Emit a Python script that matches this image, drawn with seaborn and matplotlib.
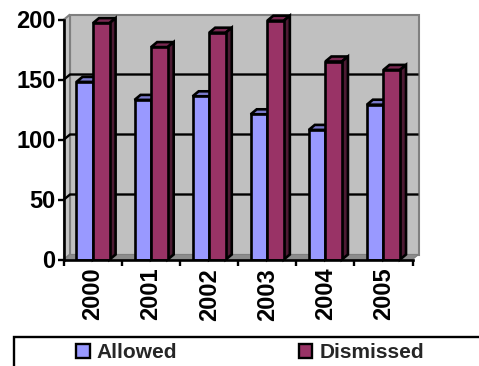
import matplotlib
matplotlib.use("Agg")
import matplotlib.pyplot as plt
from matplotlib.patches import Polygon, Rectangle
import pandas as pd
import seaborn as sns

years = ["2000", "2001", "2002", "2003", "2004", "2005"]
allowed = [148, 133, 136, 121, 108, 129]
dismissed = [197, 177, 189, 199, 165, 158]
series_names = ["Allowed", "Dismissed"]
y_ticks = [0, 50, 100, 150, 200]

FRONT = {"Allowed": "#9999FF", "Dismissed": "#993366"}
TOP = {"Allowed": "#7A7ACC", "Dismissed": "#7A2952"}
SIDE = {"Allowed": "#4D4D80", "Dismissed": "#4D1A33"}
EDGE_LW = 1.9

sns.set_theme(style="white")
plt.rcParams["font.family"] = ["Liberation Sans", "DejaVu Sans"]
plt.rcParams["font.weight"] = "bold"

W, H = 479, 366
fig = plt.figure(figsize=(W / 100, H / 100), dpi=100)
ax = fig.add_axes([64 / W, 1 - 259.5 / H, 348.5 / W, 240 / H])

table = pd.DataFrame({
    "year": years * 2,
    "count": allowed + dismissed,
    "outcome": [series_names[0]] * len(years) + [series_names[1]] * len(years),
})
sns.barplot(data=table, x="year", y="count", hue="outcome", palette=FRONT,
            hue_order=series_names, width=0.57, gap=0, legend=False,
            saturation=1, edgecolor="black", linewidth=EDGE_LW, ax=ax)

ax.set_xlim(-0.5, 5.5)
ax.set_ylim(0, 200)
ax.patch.set_visible(False)

# Oblique depth of the pseudo-3D box, expressed in data units
dx = 6 / (348.5 / 6)
dy = 5 / (240 / 200)
x0, x1 = ax.get_xlim()
y0, y1 = ax.get_ylim()


def face(points, color, edge="none", lw=0.0, z=1.0):
    ax.add_patch(Polygon(points, closed=True, facecolor=color, edgecolor=edge,
                         linewidth=lw, zorder=z, clip_on=False, joinstyle="miter"))


# Chart walls and floor
face([(x0 + dx, y0 + dy), (x1 + dx, y0 + dy), (x1 + dx, y1 + dy), (x0 + dx, y1 + dy)],
     "#C0C0C0", "#808080", 1.5, 0.3)
face([(x0, y0), (x0 + dx, y0 + dy), (x0 + dx, y1 + dy), (x0, y1)],
     "#C4C4C4", "#808080", 1.5, 0.4)
face([(x0, y0), (x1, y0), (x1 + dx, y0 + dy), (x0 + dx, y0 + dy)],
     "#8C8C8C", "#808080", 0.8, 0.4)

# Gridlines run along the side wall and across the back wall
for v in y_ticks[1:-1]:
    ax.plot([x0, x0 + dx, x1 + dx], [v, v + dy, v + dy], color="black", lw=1.7,
            zorder=0.6, clip_on=False, solid_capstyle="butt")

# Top and side faces for each bar, taken from the bars seaborn drew
for name, bars in zip(series_names, ax.containers):
    for bar in bars:
        left, right = bar.get_x(), bar.get_x() + bar.get_width()
        top = bar.get_height()
        bar.set_zorder(2)
        face([(left, top), (right, top), (right + dx, top + dy), (left + dx, top + dy)],
             TOP[name], "black", EDGE_LW, 1.0)
        face([(right, 0), (right + dx, dy), (right + dx, top + dy), (right, top)],
             SIDE[name], "black", EDGE_LW, 1.0)

sns.despine(ax=ax)
for side in ("left", "bottom"):
    ax.spines[side].set_linewidth(1.9)
    ax.spines[side].set_color("black")
    ax.spines[side].set_zorder(3)

ax.set_xlabel("")
ax.set_ylabel("")
ax.set_yticks(y_ticks)
ax.set_xticks(range(len(years)))
ax.set_xticks([x0 + i for i in range(len(years) + 1)], minor=True)
ax.tick_params(axis="y", which="major", left=True, length=4, width=1.7, pad=2,
               labelsize=17, labelcolor="black", color="black")
ax.tick_params(axis="x", which="major", bottom=False, length=0, pad=6,
               labelsize=17, labelcolor="black", labelrotation=90)
ax.tick_params(axis="x", which="minor", bottom=True, length=4, width=1.7, color="black")
for label in ax.get_xticklabels() + ax.get_yticklabels():
    label.set_fontweight("bold")

# Legend box runs off the right and bottom of the canvas
fig.add_artist(Rectangle((13.5 / W, 1 - 395 / H), 480 / W, 58 / H, transform=fig.transFigure,
                         facecolor="white", edgecolor="black", linewidth=1.7))
handles = [Rectangle((0, 0), 1, 1, facecolor=FRONT[n], edgecolor="black", linewidth=1.7)
           for n in series_names]
fig.legend(handles, series_names, ncol=2, frameon=False, loc="center left",
           bbox_to_anchor=(76 / W, 1 - 352.5 / H), handlelength=0.65,
           handleheight=0.65, handletextpad=0.33, columnspacing=5.85, borderpad=0,
           borderaxespad=0, prop={"weight": "bold", "size": 15})

fig.savefig("out.png", dpi=100)
